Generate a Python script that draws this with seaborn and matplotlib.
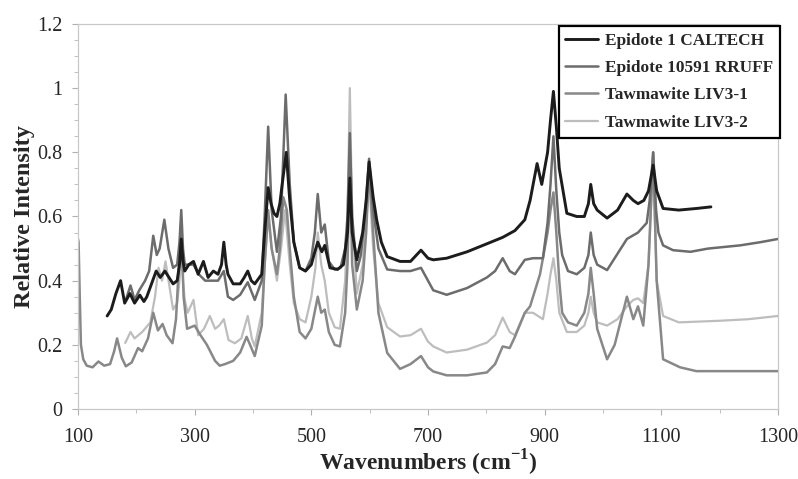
import matplotlib
matplotlib.use("Agg")
import matplotlib.pyplot as plt
import seaborn as sns
import pandas as pd
from matplotlib.ticker import MultipleLocator

# ---------------- data ----------------
series_names = ["Epidote 1 CALTECH", "Epidote 10591 RRUFF",
                "Tawmawite LIV3-1", "Tawmawite LIV3-2"]

caltech_wn = [150, 157, 165, 173, 180, 189, 197, 206, 213, 218, 226, 234, 241, 249, 256, 263, 270, 274, 277, 280,
              283, 290, 298, 306, 315, 323, 332, 340, 346, 350, 354, 357, 366, 378, 385, 391, 397, 403, 415, 420,
              426, 431, 436, 441, 446, 450, 457, 463, 470, 480, 490, 500, 506, 511, 518, 523, 532, 545, 555, 562,
              566, 570, 578, 588, 594, 599, 606, 612, 620, 630, 652, 670, 688, 700, 709, 732, 767, 801, 828, 849,
              866, 875, 887, 895, 905, 910, 915, 920, 925, 938, 955, 968, 975, 979, 984, 990, 1007, 1025, 1041, 1052,
              1060, 1070, 1078, 1086, 1092, 1103, 1130, 1160, 1185]
caltech_int = [0.29, 0.31, 0.36, 0.40, 0.33, 0.36, 0.33, 0.355, 0.335, 0.35, 0.39, 0.43, 0.41, 0.43, 0.41, 0.39, 0.40, 0.45, 0.53, 0.46,
               0.43, 0.45, 0.46, 0.42, 0.46, 0.41, 0.43, 0.42, 0.45, 0.52, 0.45, 0.42, 0.39, 0.39, 0.41, 0.43, 0.40, 0.39, 0.42, 0.55,
               0.69, 0.64, 0.61, 0.60, 0.64, 0.70, 0.80, 0.65, 0.52, 0.44, 0.43, 0.45, 0.49, 0.52, 0.49, 0.51, 0.44, 0.435, 0.45, 0.55,
               0.72, 0.55, 0.465, 0.55, 0.65, 0.77, 0.66, 0.59, 0.52, 0.475, 0.46, 0.46, 0.495, 0.47, 0.465, 0.47, 0.49, 0.515, 0.535, 0.556,
               0.59, 0.65, 0.765, 0.70, 0.80, 0.90, 0.99, 0.88, 0.75, 0.61, 0.60, 0.60, 0.64, 0.70, 0.64, 0.62, 0.595, 0.62, 0.67, 0.65,
               0.64, 0.65, 0.68, 0.76, 0.68, 0.625, 0.62, 0.625, 0.63]

rruff_wn = [182, 190, 197, 205, 215, 222, 229, 235, 240, 248, 255, 263, 270, 274, 277, 280, 283, 290, 298, 307,
            318, 330, 340, 350, 357, 366, 378, 391, 403, 415, 420, 426, 432, 441, 448, 456, 463, 470, 480, 490,
            500, 506, 511, 517, 523, 530, 540, 550, 558, 562, 566, 570, 578, 585, 592, 599, 606, 615, 630, 652,
            670, 688, 700, 709, 732, 767, 801, 815, 828, 840, 849, 866, 880, 897, 905, 910, 915, 920, 925, 930,
            940, 955, 968, 975, 979, 984, 990, 1007, 1020, 1041, 1060, 1075, 1080, 1086, 1091, 1095, 1103, 1120, 1150, 1180,
            1235, 1270, 1300]
rruff_int = [0.34, 0.385, 0.34, 0.37, 0.40, 0.43, 0.54, 0.48, 0.50, 0.59, 0.50, 0.44, 0.45, 0.52, 0.62, 0.50, 0.45, 0.45, 0.45, 0.42,
             0.40, 0.40, 0.40, 0.43, 0.35, 0.34, 0.356, 0.395, 0.34, 0.40, 0.60, 0.88, 0.62, 0.49, 0.60, 0.98, 0.70, 0.52, 0.44, 0.43,
             0.47, 0.55, 0.67, 0.55, 0.575, 0.46, 0.435, 0.44, 0.50, 0.60, 0.86, 0.60, 0.43, 0.48, 0.60, 0.78, 0.62, 0.50, 0.435, 0.43,
             0.43, 0.44, 0.40, 0.37, 0.356, 0.377, 0.41, 0.43, 0.47, 0.43, 0.42, 0.465, 0.47, 0.47, 0.58, 0.70, 0.85, 0.68, 0.55, 0.48,
             0.43, 0.42, 0.44, 0.48, 0.55, 0.48, 0.45, 0.433, 0.47, 0.53, 0.55, 0.58, 0.65, 0.80, 0.62, 0.55, 0.51, 0.495, 0.49, 0.50,
             0.51, 0.52, 0.53]

liv1_wn = [100, 101, 103, 105, 109, 115, 125, 135, 145, 155, 162, 167, 175, 182, 192, 203, 210, 220, 229, 237,
           245, 252, 262, 268, 273, 277, 281, 287, 300, 310, 321, 335, 343, 352, 366, 378, 389, 395, 403, 415,
           420, 426, 432, 441, 446, 452, 458, 463, 470, 480, 490, 500, 511, 517, 523, 530, 540, 549, 558, 562,
           566, 570, 578, 588, 594, 599, 606, 615, 630, 652, 670, 688, 700, 709, 732, 767, 801, 815, 828, 840,
           849, 866, 875, 892, 905, 910, 915, 920, 925, 930, 940, 955, 968, 975, 979, 984, 990, 1007, 1020, 1041,
           1052, 1060, 1069, 1078, 1086, 1092, 1103, 1132, 1160, 1200, 1250, 1300]
liv1_int = [0.53, 0.52, 0.35, 0.20, 0.155, 0.135, 0.13, 0.148, 0.135, 0.14, 0.18, 0.22, 0.16, 0.133, 0.145, 0.19, 0.18, 0.22, 0.30, 0.245,
            0.265, 0.23, 0.205, 0.28, 0.45, 0.58, 0.35, 0.25, 0.26, 0.23, 0.20, 0.15, 0.135, 0.14, 0.15, 0.176, 0.225, 0.20, 0.165, 0.26,
            0.45, 0.62, 0.50, 0.42, 0.50, 0.66, 0.62, 0.50, 0.35, 0.24, 0.22, 0.25, 0.35, 0.30, 0.31, 0.24, 0.20, 0.195, 0.30, 0.45,
            0.80, 0.45, 0.31, 0.40, 0.55, 0.75, 0.55, 0.30, 0.175, 0.125, 0.14, 0.165, 0.13, 0.117, 0.105, 0.105, 0.114, 0.14, 0.195, 0.19,
            0.225, 0.30, 0.32, 0.42, 0.55, 0.62, 0.675, 0.55, 0.40, 0.30, 0.27, 0.26, 0.30, 0.36, 0.44, 0.36, 0.25, 0.155, 0.20, 0.35,
            0.28, 0.32, 0.26, 0.45, 0.80, 0.40, 0.155, 0.13, 0.118, 0.118, 0.118, 0.118]

liv2_wn = [181, 190, 197, 210, 224, 232, 238, 244, 250, 257, 263, 270, 274, 277, 280, 283, 288, 298, 306, 316,
           326, 335, 342, 350, 358, 369, 380, 391, 398, 403, 415, 420, 426, 432, 441, 448, 455, 463, 470, 480,
           490, 500, 507, 511, 517, 523, 530, 540, 549, 558, 562, 566, 570, 578, 588, 594, 599, 606, 615, 630,
           652, 670, 688, 700, 709, 732, 767, 801, 815, 828, 840, 849, 866, 880, 897, 905, 910, 915, 920, 925,
           938, 955, 968, 975, 979, 984, 990, 1007, 1025, 1041, 1052, 1060, 1069, 1078, 1086, 1092, 1103, 1130, 1200, 1250,
           1300]
liv2_int = [0.206, 0.24, 0.22, 0.24, 0.27, 0.35, 0.44, 0.40, 0.46, 0.38, 0.31, 0.33, 0.40, 0.50, 0.40, 0.34, 0.30, 0.34, 0.23, 0.25,
            0.29, 0.25, 0.26, 0.28, 0.215, 0.205, 0.22, 0.29, 0.22, 0.195, 0.30, 0.45, 0.60, 0.50, 0.40, 0.50, 0.62, 0.45, 0.33, 0.28,
            0.27, 0.35, 0.44, 0.55, 0.45, 0.40, 0.30, 0.255, 0.25, 0.40, 0.60, 1.00, 0.60, 0.36, 0.45, 0.58, 0.72, 0.50, 0.33, 0.255,
            0.226, 0.23, 0.25, 0.21, 0.195, 0.176, 0.185, 0.207, 0.23, 0.285, 0.24, 0.23, 0.30, 0.30, 0.28, 0.36, 0.42, 0.47, 0.40, 0.30,
            0.24, 0.24, 0.26, 0.30, 0.35, 0.30, 0.27, 0.26, 0.28, 0.32, 0.34, 0.345, 0.33, 0.45, 0.78, 0.40, 0.29, 0.27, 0.275, 0.28,
            0.29]

# ---------------- style ----------------
sns.set_style("white")
plt.rcParams["font.family"] = ["Liberation Serif", "DejaVu Serif"]
plt.rcParams["mathtext.fontset"] = "custom"
plt.rcParams["mathtext.rm"] = "Liberation Serif"
plt.rcParams["mathtext.bf"] = "Liberation Serif:bold"

frames = []
for name, wn, yv in [(series_names[0], caltech_wn, caltech_int),
                     (series_names[1], rruff_wn, rruff_int),
                     (series_names[2], liv1_wn, liv1_int),
                     (series_names[3], liv2_wn, liv2_int)]:
    frames.append(pd.DataFrame({"Wavenumber": wn, "Intensity": yv, "Sample": name}))
df = pd.concat(frames, ignore_index=True)

colors = {series_names[0]: "#1c1c1c", series_names[1]: "#6c6c6c",
          series_names[2]: "#888888", series_names[3]: "#bdbdbd"}
widths = {series_names[0]: 2.1, series_names[1]: 1.8,
          series_names[2]: 1.8, series_names[3]: 1.6}

fig = plt.figure(figsize=(7.98, 4.79), dpi=100)
ax = fig.add_axes([78 / 798, 1 - 409 / 479, 700 / 798, 385 / 479])

# draw lower series first so the black line sits on top
for name in [series_names[3], series_names[2], series_names[1], series_names[0]]:
    sub = df[df["Sample"] == name]
    sns.lineplot(data=sub, x="Wavenumber", y="Intensity", ax=ax, color=colors[name],
                 linewidth=widths[name], label=name, sort=False, estimator=None)

ax.set_xlim(100, 1300)
ax.set_ylim(0, 1.2)
ax.set_xticks([100, 300, 500, 700, 900, 1100, 1300])
ax.xaxis.set_minor_locator(MultipleLocator(100))
ax.set_yticks([0, 0.2, 0.4, 0.6, 0.8, 1.0, 1.2])
ax.set_yticklabels(["0", "0.2", "0.4", "0.6", "0.8", "1", "1.2"])
ax.yaxis.set_minor_locator(MultipleLocator(0.05))
ax.tick_params(axis="both", which="major", length=4, width=0.8,
               color="#b0b0b0", direction="out", bottom=True, left=True)
ax.tick_params(axis="x", which="major", labelsize=14.5, pad=10)
ax.tick_params(axis="y", which="major", labelsize=14.5, pad=7)
ax.tick_params(axis="both", which="minor", length=3, width=0.7, color="#c0c0c0",
               direction="out", bottom=True, left=True)
for s in ax.spines.values():
    s.set_color("#c8c8c8")
    s.set_linewidth(0.9)

ax.set_xlabel(r"Wavenumbers (cm$^{\mathbf{-1}}$)", fontsize=17, fontweight="bold", labelpad=0)
ax.set_ylabel("Relative Intensity", fontsize=17.5, fontweight="bold", labelpad=2)

handles, labels = ax.get_legend_handles_labels()
order = [labels.index(n) for n in series_names]
leg = ax.legend([handles[i] for i in order], [labels[i] for i in order],
                loc="upper right", bbox_to_anchor=(1.003, 0.995), frameon=True,
                fancybox=False, prop={"family": "Liberation Serif", "weight": "bold", "size": 12.4},
                handlelength=1.9, labelspacing=0.65, borderpad=0.4, handletextpad=0.4,
                borderaxespad=0.0)
leg.get_frame().set_edgecolor("black")
leg.get_frame().set_linewidth(1.6)
leg.get_frame().set_alpha(1)

fig.savefig("out.png", dpi=100)
